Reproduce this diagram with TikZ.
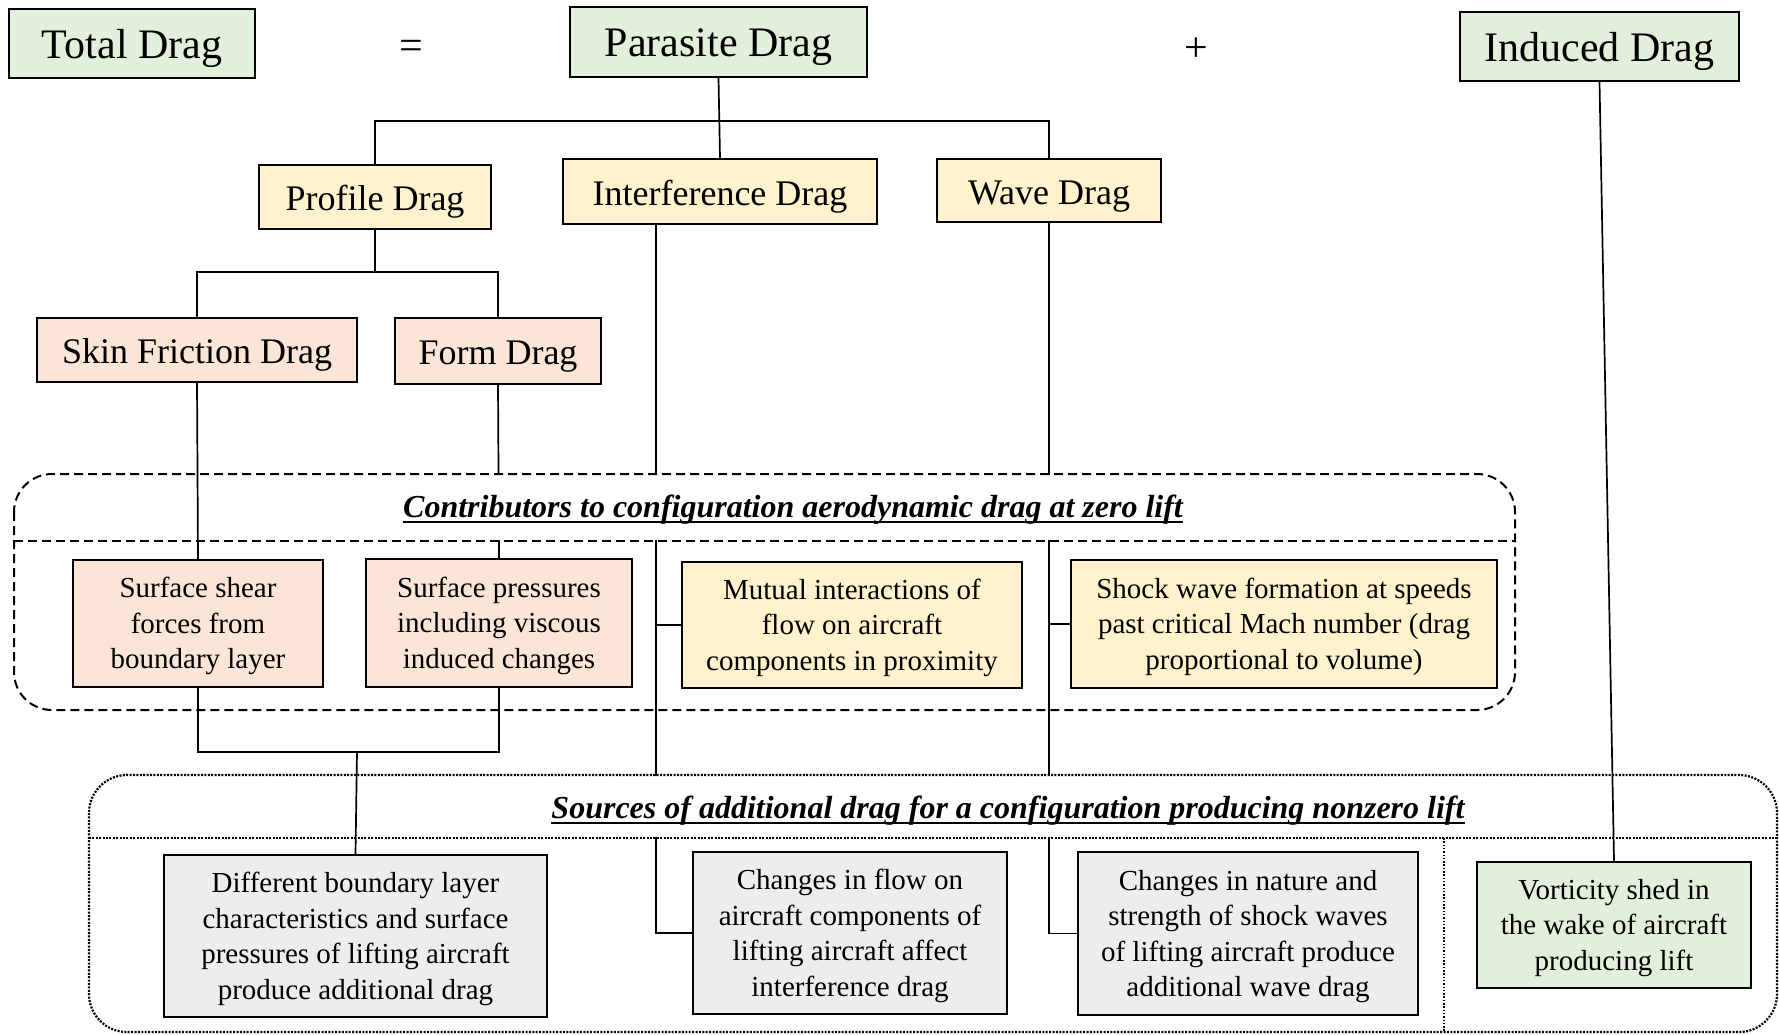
\documentclass[tikz,border=0pt]{standalone}
\usepackage{fontspec}
\setmainfont{Liberation Serif}
\definecolor{gfill}{HTML}{E2EFDA}
\definecolor{yfill}{HTML}{FFF2CC}
\definecolor{pfill}{HTML}{FBE5D6}
\definecolor{kfill}{HTML}{EDEDED}
\newcommand\topstrut{\rule{0pt}{26pt}}
\pgfdeclarelayer{bg}
\pgfdeclarelayer{mid}
\pgfsetlayers{bg,mid,main}
\tikzset{
  box/.style={draw=black, line width=2pt, inner sep=0pt, align=center},
  lvlA/.style={box, fill=gfill, font=\fontsize{42}{50}\selectfont, text height=29pt, text depth=0pt},
  lvlB/.style={box, fill=yfill, font=\fontsize{36}{43}\selectfont, text height=27pt, text depth=0pt},
  lvlC/.style={box, fill=pfill, font=\fontsize{36}{43}\selectfont, text height=26pt, text depth=0pt},
  body/.style={box, font=\fontsize{29}{35.5}\selectfont},
  bigsym/.style={inner sep=0pt, font=\fontsize{42}{50}\selectfont},
  ttl/.style={inner sep=0pt, font=\fontsize{32}{38}\selectfont\bfseries\itshape},
  ulline/.style={line width=2pt},
  conn/.style={line width=1.7pt},
  dashbox/.style={line width=2pt, dash pattern=on 9pt off 5pt},
  dotbox/.style={line width=2.2pt, dash pattern=on 2pt off 1.4pt},
  dotthin/.style={line width=1.3pt, dash pattern=on 1.5pt off 1.8pt},
}
\begin{document}
\begin{tikzpicture}[x=1pt,y=-1pt]
\useasboundingbox (0,0) rectangle (1779,1034);

% top row
\node[lvlA, minimum width=246pt, minimum height=69pt] (total) at (132,43.5) {Total Drag};
\node[bigsym] (eq) at (411,50) {=};
\node[lvlA, minimum width=297pt, minimum height=70pt] (parasite) at (718.5,42) {Parasite Drag};
\node[bigsym] (plus) at (1196,49.5) {+};
\node[lvlA, minimum width=279pt, minimum height=69pt] (induced) at (1599.5,46.5) {Induced Drag};

% second row
\node[lvlB, minimum width=232pt, minimum height=64pt] (profile) at (375,197) {Profile Drag};
\node[lvlB, minimum width=314pt, minimum height=65pt] (interf) at (720,191.5) {Interference Drag};
\node[lvlB, minimum width=224pt, minimum height=63pt] (wave) at (1049,190.5) {Wave Drag};

% third row
\node[lvlC, minimum width=320pt, minimum height=64pt] (skin) at (197,350) {Skin Friction Drag};
\node[lvlC, minimum width=206pt, minimum height=66pt] (form) at (498,351) {Form Drag};

% zero-lift contributors
\node[body, fill=pfill, minimum width=250pt, minimum height=127pt] (shear) at (198,623.5) {\topstrut Surface shear\\forces from\\boundary layer};
\node[body, fill=pfill, minimum width=266pt, minimum height=128pt] (press) at (499,623) {\topstrut Surface pressures\\including viscous\\induced changes};
\node[body, fill=yfill, minimum width=340pt, minimum height=126pt] (mutual) at (852,625) {\topstrut Mutual interactions of\\flow on aircraft\\components in proximity};
\node[body, fill=yfill, minimum width=426pt, minimum height=128pt] (shock) at (1284,624) {\topstrut Shock wave formation at speeds\\past critical Mach number (drag\\proportional to volume)};

% nonzero-lift sources
\node[body, fill=kfill, minimum width=383pt, minimum height=162pt] (diff) at (355.5,936) {\topstrut Different boundary layer\\characteristics and surface\\pressures of lifting aircraft\\produce additional drag};
\node[body, fill=kfill, minimum width=314pt, minimum height=162pt] (flow) at (850,933) {\topstrut Changes in flow on\\aircraft components of\\lifting aircraft affect\\interference drag};
\node[body, fill=kfill, minimum width=340pt, minimum height=163pt] (nature) at (1248,933.5) {\topstrut Changes in nature and\\strength of shock waves\\of lifting aircraft produce\\additional wave drag};
\node[body, fill=gfill, minimum width=274pt, minimum height=126pt] (vort) at (1614,925) {\topstrut Vorticity shed in\\the wake of aircraft\\producing lift};

% titles
\node[ttl, anchor=base] (t1) at (793,517) {Contributors to configuration aerodynamic drag at zero lift};
\node[ttl, anchor=base] (t2) at (1008,818) {Sources of additional drag for a configuration producing nonzero lift};
\draw[ulline] ([yshift=-4.5pt]t1.base west) -- ([yshift=-4.5pt]t1.base east);
\draw[ulline] ([yshift=-4.5pt]t2.base west) -- ([yshift=-4.5pt]t2.base east);

% container geometry
\coordinate (c1top) at (14,474);
\coordinate (c1div) at (14,541);
\coordinate (c2top) at (89,775);
\coordinate (c2div) at (89,838);

% connectors
\begin{pgfonlayer}{bg}
\coordinate (bar1) at (719,121);
\coordinate (bar2) at (376,272);
\coordinate (bar3) at (357,752);
\coordinate (iL) at ([xshift=94pt]interf.south west);
\draw[conn] (parasite.south) -- (interf.north);
\draw[conn] (profile.north) -- (profile.north |- bar1) -- (wave.north |- bar1) -- (wave.north);
\draw[conn] (profile.south) -- (profile.south |- bar2);
\draw[conn] (skin.north) |- (bar2) -| (form.north);
\draw[conn] (skin.south) -- (shear.north);
\draw[conn] (form.south) -- (press.north);
\draw[conn] (shear.south) |- (bar3) -| (press.south);
\draw[conn] (bar3) -- (diff.north);
\draw[conn] (iL) |- (mutual.west);
\draw[conn] (iL) |- (flow.west);
\draw[conn] (wave.south) |- (shock.west);
\draw[conn] (wave.south) |- (nature.west);
\draw[conn] (induced.south) -- (vort.north);
\end{pgfonlayer}

% white bands behind the titles
\begin{pgfonlayer}{mid}
\fill[white] ([xshift=-2pt,yshift=-1pt]t1.west |- c1top) rectangle ([xshift=2pt,yshift=1pt]t1.east |- c1div);
\fill[white] ([xshift=-2pt,yshift=-1pt]t2.west |- c2top) rectangle ([xshift=2pt,yshift=1pt]t2.east |- c2div);
\end{pgfonlayer}

% containers
\draw[dashbox, rounded corners=38pt] (c1top) rectangle (1515,710);
\draw[dashbox] (c1div) -- (1515,541);
\draw[dotbox, rounded corners=38pt] (c2top) rectangle (1777,1032);
\draw[dotbox] (c2div) -- (1777,838);
\draw[dotthin] (1444,838) -- (1444,1031);
\end{tikzpicture}
\end{document}
